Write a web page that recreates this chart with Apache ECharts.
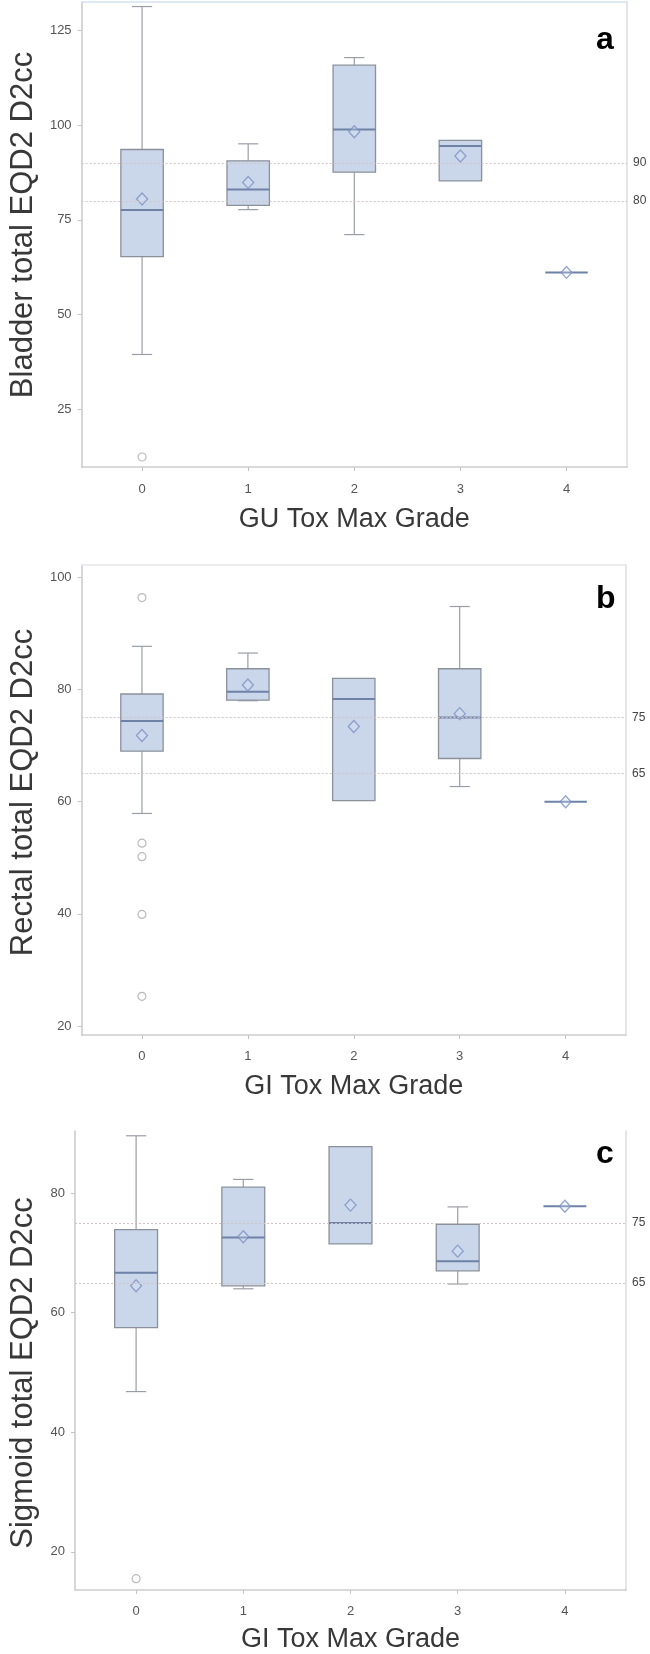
<!DOCTYPE html>
<html><head><meta charset="utf-8">
<script src="https://cdn.jsdelivr.net/npm/echarts@6/dist/echarts.min.js"></script>
<style>html,body{margin:0;padding:0;background:#fff}#c{width:650px;height:1654px}</style>
</head><body><div id="c"></div>
<script>
// ---------- data ----------
const grades = [0, 1, 2, 3, 4];
// each row: [min, Q1, median, Q3, max]
const bladderBox = [[39.4,65.3,77.6,93.6,131.4],[77.7,78.8,83.0,90.6,95.1],[71.1,87.6,98.9,115.9,117.9],[85.3,85.3,94.5,96.0,96.0],[61.1,61.1,61.1,61.1,61.1]];
const bladderMean = [80.5, 84.9, 98.3, 91.9, 61.1];
const bladderOutliers = [[0, 12.3]];
const bladderRef = [90, 80];
const bladderTicks = [25, 50, 75, 100, 125];

const rectalBox = [[57.9,69.0,74.4,79.2,87.7],[78.0,78.1,79.6,83.7,86.5],[60.2,60.2,78.3,82.0,82.0],[62.7,67.7,75.0,83.7,94.8],[60.0,60.0,60.0,60.0,60.0]];
const rectalMean = [71.8, 80.8, 73.4, 75.7, 60.0];
const rectalOutliers = [[0, 96.4],[0, 52.6],[0, 50.2],[0, 39.9],[0, 25.3]];
const rectalRef = [75, 65];
const rectalTicks = [20, 40, 60, 80, 100];

const sigmoidBox = [[46.8,57.5,66.7,73.9,89.6],[64.0,64.5,72.6,81.0,82.3],[71.5,71.5,75.0,87.8,87.8],[64.8,67.0,68.6,74.8,77.7],[77.8,77.8,77.8,77.8,77.8]];
const sigmoidMean = [64.5, 72.7, 78.0, 70.3, 77.8];
const sigmoidOutliers = [[0, 15.5]];
const sigmoidRef = [75, 65];
const sigmoidTicks = [20, 40, 60, 80];

const yTitles = ['Bladder total EQD2 D2cc', 'Rectal total EQD2 D2cc', 'Sigmoid total EQD2 D2cc'];
const xTitles = ['GU Tox Max Grade', 'GI Tox Max Grade', 'GI Tox Max Grade'];
const panelLetters = ['a', 'b', 'c'];

// ---------- styling ----------
const FONT = 'Liberation Sans, Arial, Helvetica, sans-serif';
const BOX_W = 0.4, CAP_W = 0.19;
const panels = [
  {box: bladderBox, mean: bladderMean, out: bladderOutliers, ref: bladderRef, ticks: bladderTicks,
   grid: {left: 68, right: 23, top: 2, height: 465}, ymin: 9.65, ymax: 132.6,
   yGap: 37, yPad: [0, 0, 0, 19], xGap: 39, xMargin: 16, letterTop: 19},
  {box: rectalBox, mean: rectalMean, out: rectalOutliers, ref: rectalRef, ticks: rectalTicks,
   grid: {left: 74, right: 24, top: 565, height: 470}, ymin: 18.4, ymax: 102.2,
   yGap: 37, yPad: [0, 0, 0, 15], xGap: 38, xMargin: 15, letterTop: 578},
  {box: sigmoidBox, mean: sigmoidMean, out: sigmoidOutliers, ref: sigmoidRef, ticks: sigmoidTicks,
   grid: {left: 68, right: 24, top: 1131, height: 459}, ymin: 13.6, ymax: 90.4,
   yGap: 36, yPad: [0, 25, 0, 0], xGap: 36, xMargin: 15, letterTop: 1133}
];

function renderBox(params, api) {
  const x = api.value(0);
  const lo = api.value(1), q1 = api.value(2), med = api.value(3), q3 = api.value(4), hi = api.value(5);
  const halfBox = api.size([BOX_W, 0])[0] / 2;
  const halfCap = api.size([CAP_W, 0])[0] / 2;
  const pHi = api.coord([x, hi]), pQ3 = api.coord([x, q3]), pMed = api.coord([x, med]);
  const pQ1 = api.coord([x, q1]), pLo = api.coord([x, lo]);
  const cx = pMed[0];
  const w = {stroke: '#9a9ea6', lineWidth: 1.2};
  const ch = [];
  if (hi > q3) {
    ch.push({type: 'line', shape: {x1: cx, y1: pHi[1], x2: cx, y2: pQ3[1]}, style: w});
    ch.push({type: 'line', shape: {x1: cx - halfCap, y1: pHi[1], x2: cx + halfCap, y2: pHi[1]}, style: w});
  }
  if (lo < q1) {
    ch.push({type: 'line', shape: {x1: cx, y1: pQ1[1], x2: cx, y2: pLo[1]}, style: w});
    ch.push({type: 'line', shape: {x1: cx - halfCap, y1: pLo[1], x2: cx + halfCap, y2: pLo[1]}, style: w});
  }
  if (q3 > q1) {
    ch.push({type: 'rect', shape: {x: cx - halfBox, y: pQ3[1], width: 2 * halfBox, height: pQ1[1] - pQ3[1]},
      style: {fill: '#cad6ea', stroke: '#8b919b', lineWidth: 1.3}});
  }
  ch.push({type: 'line', shape: {x1: cx - halfBox, y1: pMed[1], x2: cx + halfBox, y2: pMed[1]},
    style: {stroke: '#6e82a8', lineWidth: 2}});
  return {type: 'group', children: ch};
}

const grid = [], xAxis = [], yAxis = [], series = [], title = [];
panels.forEach((p, i) => {
  grid.push(Object.assign({containLabel: false}, p.grid));
  xAxis.push({
    gridIndex: i, type: 'value', min: -0.57, max: 4.57,
    axisLine: {show: true, onZero: false, lineStyle: {color: '#cdcdcd', width: 1.5}},
    axisTick: {show: true, length: 4, customValues: grades, lineStyle: {color: '#c4c4c4'}},
    axisLabel: {customValues: grades, margin: p.xMargin, fontSize: 13, color: '#555', fontFamily: FONT},
    splitLine: {show: false},
    name: xTitles[i], nameLocation: 'middle', nameGap: p.xGap,
    nameTextStyle: {fontSize: 27, color: '#383838', fontFamily: FONT}
  });
  yAxis.push({
    gridIndex: i, type: 'value', min: p.ymin, max: p.ymax,
    axisLine: {show: true, onZero: false, lineStyle: {color: '#cacaca', width: 1.5}},
    axisTick: {show: true, length: 4, customValues: p.ticks, lineStyle: {color: '#c4c4c4'}},
    axisLabel: {customValues: p.ticks, margin: 10, fontSize: 13, color: '#555', fontFamily: FONT},
    splitLine: {show: false},
    name: yTitles[i], nameLocation: 'middle', nameRotate: 90, nameGap: p.yGap,
    nameTextStyle: {fontSize: 31, color: '#383838', fontFamily: FONT, padding: p.yPad}
  });
  title.push({text: panelLetters[i], left: 591, top: p.letterTop,
    textStyle: {fontSize: 32, fontWeight: 'bold', color: '#000', fontFamily: FONT}});

  series.push({
    type: 'custom', xAxisIndex: i, yAxisIndex: i, renderItem: renderBox,
    encode: {x: 0, y: [1, 2, 3, 4, 5]},
    data: grades.map((g, k) => [g].concat(p.box[k])),
    z: 2,
    markLine: {
      silent: true, symbol: 'none', animation: false,
      lineStyle: {type: [2, 2], color: '#d2c3c7', width: 1},
      label: {position: 'end', formatter: '{c}', color: '#444', fontSize: 12, distance: 6, fontFamily: FONT},
      data: p.ref.map(v => ({yAxis: v}))
    }
  });
  series.push({
    type: 'scatter', xAxisIndex: i, yAxisIndex: i, symbol: 'diamond', symbolSize: [11, 12], z: 4,
    itemStyle: {color: 'rgba(220,230,245,0.35)', borderColor: '#7c8fc2', borderWidth: 1.3},
    data: grades.map((g, k) => [g, p.mean[k]])
  });
  series.push({
    type: 'scatter', xAxisIndex: i, yAxisIndex: i, symbol: 'circle', symbolSize: 8, z: 4,
    itemStyle: {color: 'rgba(255,255,255,0)', borderColor: '#a9a9ad', borderWidth: 1.2},
    data: p.out
  });
});

// frame lines: right side of every plot, top side of plots a and b
panels.forEach((p, i) => {
  yAxis.push({gridIndex: i, type: 'value', position: 'right', min: p.ymin, max: p.ymax,
    axisLine: {show: true, onZero: false, lineStyle: {color: '#dcdcdc', width: 1.5}},
    axisTick: {show: false}, axisLabel: {show: false}, splitLine: {show: false}});
});
[0, 1].forEach(i => {
  xAxis.push({gridIndex: i, type: 'value', position: 'top', min: -0.57, max: 4.57,
    axisLine: {show: true, onZero: false, lineStyle: {color: i === 0 ? '#d3e2f2' : '#e6e8ec', width: 1.5}},
    axisTick: {show: false}, axisLabel: {show: false}, splitLine: {show: false}});
});

const chart = echarts.init(document.getElementById('c'), null, {renderer: 'canvas'});
chart.setOption({animation: false, backgroundColor: '#fff', title, grid, xAxis, yAxis, series});
</script>
</body></html>
